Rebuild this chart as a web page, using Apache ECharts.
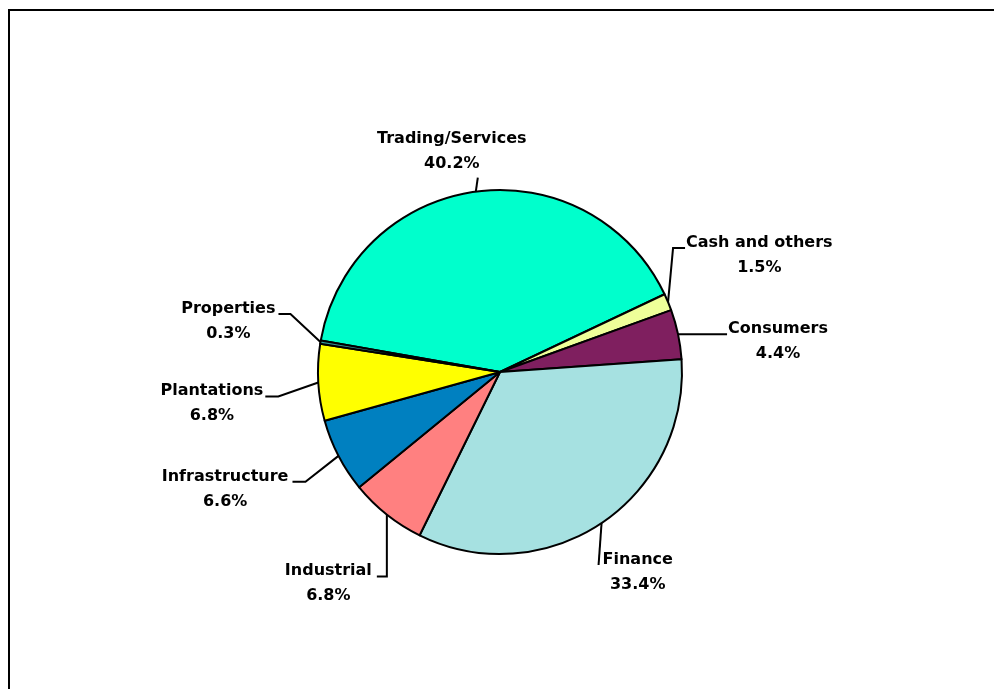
<!DOCTYPE html>
<html>
<head>
<meta charset="utf-8">
<style>
  html, body { margin: 0; padding: 0; background: #fff; }
  #main { width: 994px; height: 689px; }
</style>
<script src="https://cdn.jsdelivr.net/npm/echarts@6/dist/echarts.min.js"></script>
</head>
<body>
<div id="main"></div>
<script>
'use strict';

// sectors, clockwise from the left edge
const sectors = ['Trading/Services', 'Cash and others', 'Consumers', 'Finance',
  'Industrial', 'Infrastructure', 'Plantations', 'Properties'];
const shares = [40.2, 1.5, 4.4, 33.4, 6.8, 6.6, 6.8, 0.3];

const colorList = ['#00FFCC', '#EEFF99', '#7F1F5F', '#A6E1E1',
  '#FF8080', '#0080C0', '#FFFF00', '#339999'];

// leader lines: [dx to elbow, dy to elbow, horizontal run, side, gap]
// side 0 = label placed by fixed offset (ox, oy) from line end
const leaders = [
  [2, -14, 0, 0, -26, -51],
  [5, -54, 12, 1, 1],
  [4, 0, 45, 1, 1],
  [-3, 42, 0, 1, 4],
  [0, 62, -10, -1, 5],
  [-33, 26, -13, -1, 4],
  [-40, 14, -13, -1, 2],
  [-30, -28, -12, -1, 3]
];

const LINE_H = 25;

let chart = echarts.init(document.getElementById('main'));

chart.setOption({
  animation: false,
  color: colorList,
  graphic: [{
    type: 'rect',
    shape: { x: 9, y: 10, width: 1100, height: 800 },
    style: { fill: 'none', stroke: '#000', lineWidth: 2 },
    silent: true
  }],
  series: [{
    type: 'pie',
    center: [500, 372],
    radius: 182,
    startAngle: 170,
    clockwise: true,
    avoidLabelOverlap: false,
    itemStyle: {
      borderColor: '#000',
      borderWidth: 2
    },
    label: {
      show: true,
      position: 'outside',
      formatter: '{b}\n{d}%',
      fontFamily: 'DejaVu Sans',
      fontWeight: 'bold',
      fontSize: 16,
      lineHeight: LINE_H,
      color: '#000'
    },
    labelLine: {
      show: true,
      length: 10,
      length2: 10,
      lineStyle: { color: '#000', width: 2 }
    },
    labelLayout: function (p) {
      const g = leaders[p.dataIndex];
      const s = p.labelLinePoints[0];
      const elbow = [s[0] + g[0], s[1] + g[1]];
      const end = [elbow[0] + g[2], elbow[1]];
      let x, y;
      if (g[3] === 0) {
        x = end[0] + g[4];
        y = end[1] + g[5];
      } else {
        x = end[0] + g[3] * (p.labelRect.width / 2 + g[4]);
        y = end[1] - 18;
      }
      return {
        x: x,
        y: y,
        align: 'center',
        verticalAlign: 'top',
        labelLinePoints: [s, elbow, end]
      };
    },
    data: sectors.map(function (name, i) {
      return { name: name, value: shares[i] };
    })
  }]
});

window.onresize = () => {
  chart.resize();
};
</script>
</body>
</html>
